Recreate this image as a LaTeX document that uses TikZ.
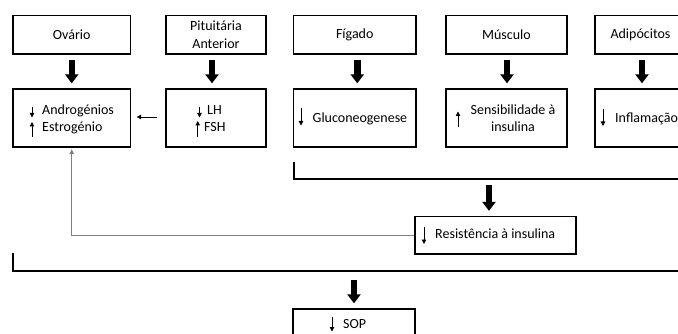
\documentclass[tikz,border=0pt]{standalone}
\usepackage{fontspec}
\setmainfont{Carlito}
\usetikzlibrary{arrows.meta,calc}
\begin{document}
\begin{tikzpicture}[x=1pt,y=-1pt,
  font=\fontsize{14pt}{17.5pt}\selectfont,
  box/.style={draw=black,line width=1.3pt,inner sep=0pt,align=center},
  toprow/.style={box,minimum height=38.5pt},
  midrow/.style={box,minimum height=58pt},
  txt/.style={inner sep=0pt},
  tarr/.style={line width=6.5pt,-{Triangle[length=9pt,width=13pt]}},
  sarr/.style={line width=0.8pt,-{Triangle[length=4.5pt,width=4.5pt]}},
  glink/.style={draw=black!50,line width=1pt,-{Triangle[length=5pt,width=4.5pt]}},
  brk/.style={line width=1.3pt}]
\useasboundingbox (0,0) rectangle (678,334);
\clip (0,0) rectangle (678,334);
% top row
\node[toprow,minimum width=117.5pt] (ov)  at (71.75,34.75) {Ovário};
\node[toprow,minimum width=100pt]   (pit) at (216,34.75) {Pituitária\\Anterior};
\node[toprow,minimum width=122.5pt] (fig) at (354.75,34.75) {Fígado};
\node[toprow,minimum width=121pt]   (mus) at (506.5,34.75) {Músculo};
\node[toprow,minimum width=91pt]    (adi) at (640.5,34.75) {Adipócitos};
% second row
\node[midrow,minimum width=117.5pt] (andro) at (71.75,118) {};
\node[midrow,minimum width=100pt]   (lh)    at (216,118) {};
\node[midrow,minimum width=122.5pt] (glu)   at (354.75,118) {};
\node[midrow,minimum width=121pt]   (sens)  at (506.5,118) {};
\node[midrow,minimum width=105pt]   (inf)   at (647.5,118) {};
% texts in second row
\node[txt,anchor=base west] (andro1) at (42,115) {Androgénios};
\node[txt,anchor=base west] (andro2) at (42,132) {Estrogénio};
\draw[sarr] (32,107) -- (32,117.5);
\draw[sarr] (32,137) -- (32,122);
\node[txt,anchor=base west] (lh1) at (207,115) {LH};
\node[txt,anchor=base west] (lh2) at (204,132) {FSH};
\draw[sarr] (199.5,107) -- (199.5,117.5);
\draw[sarr] (197.7,137) -- (197.7,121);
\node[txt,anchor=base west] (glu1) at (312.5,122.5) {Gluconeogenese};
\draw[sarr] (301,108) -- (301,125.5);
\node[txt,anchor=base] (sens1) at (513,115) {Sensibilidade à};
\node[txt,anchor=base] (sens2) at (513,131.5) {insulina};
\draw[sarr] (458,127) -- (458,111.5);
\node[txt,anchor=base west] (inf1) at (615,122.5) {Inflamação};
\draw[sarr] (603,109) -- (603,126);
% thick arrows top -> mid
\draw[tarr] ([yshift=-5pt]ov.south) -- ([yshift=5pt]andro.north);
\draw[tarr] ([xshift=-4pt,yshift=-5pt]pit.south) -- ([xshift=-4pt,yshift=5pt]lh.north);
\draw[tarr] ([xshift=2.5pt,yshift=-5pt]fig.south) -- ([xshift=2.5pt,yshift=5pt]glu.north);
\draw[tarr] ([xshift=0.5pt,yshift=-5pt]mus.south) -- ([xshift=0.5pt,yshift=5pt]sens.north);
\coordinate (adis) at ([xshift=1.5pt,yshift=-5pt]adi.south);
\draw[tarr] (adis) -- ([yshift=5pt]adis |- inf.north);
% LH -> Andro
\draw[sarr] ([xshift=-8pt,yshift=1pt]lh.west) -- ([xshift=5.5pt,yshift=1pt]andro.east);
% resistance
\node[box,minimum width=161pt,minimum height=37.5pt] (res) at (495.5,235.25) {};
\node[txt,anchor=base west] (res1) at (435,238.5) {Resistência à insulina};
\draw[sarr] (424,227.5) -- (424,244);
% bracket 1
\coordinate (b1a) at (294,162);
\coordinate (b1b) at (294,179);
\coordinate (b1c) at (700,179);
\coordinate (b1m) at (489,179);
\draw[brk] (b1a) -- (b1b) -- (b1c);
\draw[tarr] ([yshift=-6pt]b1m) -- ([yshift=5pt]b1m |- res.north);
% gray feedback
\draw[glink] (res.west) -- (res.west -| andro.south) -- ([yshift=-1.5pt]andro.south);
% big bracket
\coordinate (b2a) at (13,253);
\coordinate (b2b) at (13,271);
\coordinate (b2c) at (700,271);
\coordinate (b2m) at (354,271);
\node[box,minimum width=122pt,minimum height=38pt] (sop) at (354,328) {};
\node[txt,anchor=base west] (sop1) at (343,328.3) {SOP};
\draw[sarr] (332,316.5) -- (332,331.5);
\draw[brk] (b2a) -- (b2b) -- (b2c);
\draw[tarr] ([yshift=-9pt]b2m) -- ([yshift=5pt]b2m |- sop.north);
\end{tikzpicture}
\end{document}
